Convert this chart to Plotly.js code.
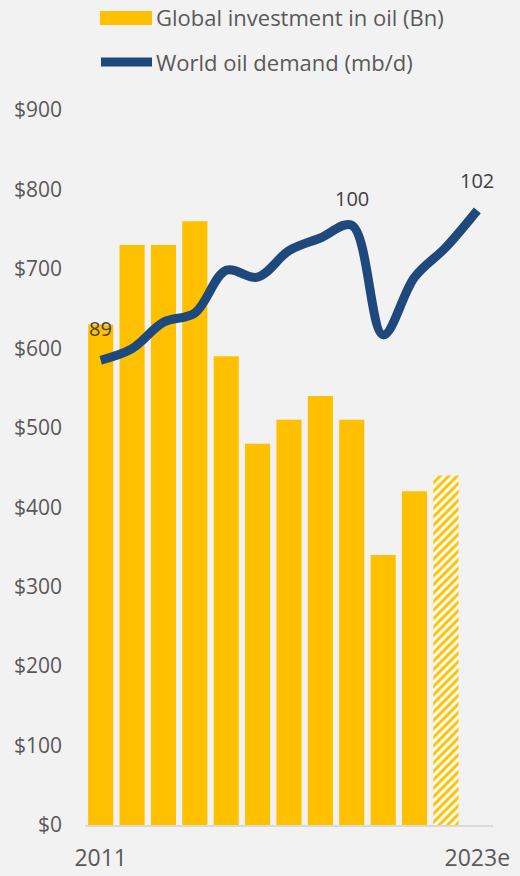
<!DOCTYPE html>
<html>
<head>
<meta charset="utf-8">
<script src="https://cdn.plot.ly/plotly-3.0.1.min.js"></script>
<style>
html,body{margin:0;padding:0;background:#f2f2f2;}
#chart{width:520px;height:876px;}
</style>
</head>
<body>
<div id="chart"></div>
<script>
// Data
const years = ['2011','2012','2013','2014','2015','2016','2017','2018','2019','2020','2021','2022','2023e'];
const investment = [630, 730, 730, 760, 590, 480, 510, 540, 510, 340, 420, 440, null];
const investmentEstimate = [false,false,false,false,false,false,false,false,false,false,false,true,false];
const demand = [89.0, 90.0, 92.3, 93.1, 96.8, 96.2, 98.5, 99.6, 100.7, 91.2, 96.2, 98.8, 102.0];
const demandLabels = [{year:'2011', text:'89'}, {year:'2019', text:'100'}, {year:'2023e', text:'102'}];
const shownYearTicks = ['2011', '2023e'];
const seriesNames = ['Global investment in oil (Bn)', 'World oil demand (mb/d)'];

const gold = '#FFC000';
const navy = '#1F497D';
const txt = '#595959';
const fontFam = '"Open Sans", Lato, sans-serif';

const barTrace = {
  type: 'bar',
  x: years,
  y: investment,
  name: seriesNames[0],
  marker: {
    color: gold,
    line: {width: 0},
    pattern: {
      shape: investmentEstimate.map(e => e ? '/' : ''),
      fgcolor: gold,
      bgcolor: 'white',
      size: 6,
      solidity: 0.5
    }
  },
  showlegend: false,
  hoverinfo: 'skip'
};

const lineTrace = {
  type: 'scatter',
  mode: 'lines',
  x: years,
  y: demand,
  yaxis: 'y2',
  name: seriesNames[1],
  line: {color: navy, width: 9, shape: 'spline', smoothing: 1},
  showlegend: false,
  hoverinfo: 'skip'
};

// plot area pixel geometry helpers for legend placement
const L = 85, R = 493, T = 110, B = 825;
const px = v => (v - L) / (R - L);
const py = v => (B - v) / (B - T);

const labelShift = {'89': 32, '100': 27, '102': 30};
const annotations = demandLabels.map(d => ({
  x: years.indexOf(d.year), y: demand[years.indexOf(d.year)], xref: 'x', yref: 'y2',
  text: d.text, showarrow: false, yshift: labelShift[d.text],
  font: {family: fontFam, size: 20, color: '#404040'}
}));
annotations.push(
  {x: px(154), y: py(17), xref: 'paper', yref: 'paper', xanchor: 'left', yanchor: 'middle',
   text: seriesNames[0], showarrow: false, font: {family: fontFam, size: 22, color: txt}},
  {x: px(154), y: py(62), xref: 'paper', yref: 'paper', xanchor: 'left', yanchor: 'middle',
   text: seriesNames[1], showarrow: false, font: {family: fontFam, size: 22, color: txt}}
);

const shapes = [
  {type: 'rect', xref: 'paper', yref: 'paper', x0: px(100), x1: px(152), y0: py(25), y1: py(11),
   fillcolor: gold, line: {width: 0}},
  {type: 'line', xref: 'paper', yref: 'paper', x0: px(101), x1: px(152), y0: py(62), y1: py(62),
   line: {color: navy, width: 9}}
];

const layout = {
  width: 520, height: 876,
  paper_bgcolor: '#f2f2f2',
  plot_bgcolor: '#f2f2f2',
  margin: {l: L, r: 520 - R, t: T, b: 876 - B},
  bargap: 0.2,
  showlegend: false,
  font: {family: fontFam, color: txt},
  xaxis: {
    type: 'category',
    categoryorder: 'array', categoryarray: years,
    range: [-0.5, years.length - 0.5],
    tickmode: 'array', tickvals: shownYearTicks, ticktext: shownYearTicks,
    ticks: '', showgrid: false, zeroline: false,
    showline: true, linecolor: '#d9d9d9', linewidth: 2,
    tickfont: {family: fontFam, size: 23, color: txt},
    ticklabelstandoff: 11
  },
  yaxis: {
    range: [0, 900], dtick: 100, tickprefix: '$',
    showgrid: false, zeroline: false, showline: false, ticks: '',
    tickfont: {family: fontFam, size: 21, color: txt},
    ticklabelstandoff: 22
  },
  yaxis2: {
    overlaying: 'y', side: 'right',
    range: [48.7, 110.7],
    visible: false, showgrid: false, zeroline: false
  },
  annotations: annotations,
  shapes: shapes
};

Plotly.newPlot('chart', [barTrace, lineTrace], layout, {displayModeBar: false, staticPlot: true});
</script>
</body>
</html>
